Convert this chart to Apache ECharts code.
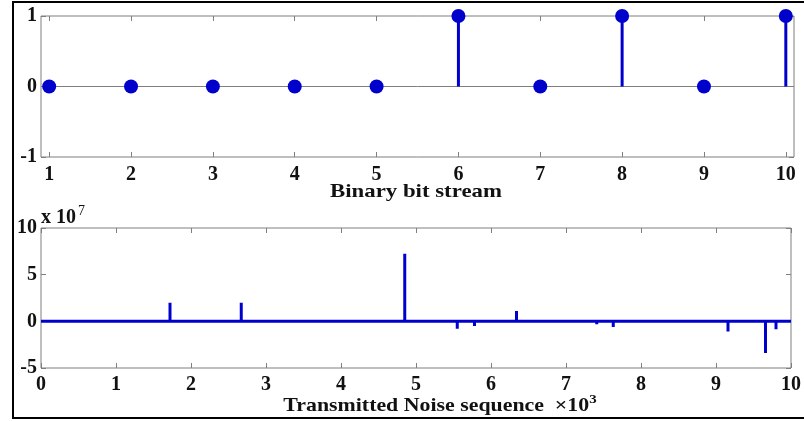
<!DOCTYPE html>
<html><head><meta charset="utf-8">
<script src="https://cdn.jsdelivr.net/npm/echarts@6/dist/echarts.min.js"></script>
<style>html,body{margin:0;padding:0;background:#fff}#c{width:804px;height:421px}</style>
</head><body><div id="c"></div>
<script>
// Top plot: binary bit stream
const bitIndex = [1,2,3,4,5,6,7,8,9,10];
const bitValues = [0,0,0,0,0,1,0,1,0,1];
const topXTicks = [1,2,3,4,5,6,7,8,9,10];
const topYTicks = [-1,0,1];
// Bottom plot: transmitted noise sequence (x in 10^3 samples, y in 10^7)
const noiseX = [1.72, 1.99, 2.67, 4.85, 5.40, 5.55, 5.78, 6.34, 7.41, 7.63, 7.76, 9.16, 9.34, 9.66, 9.80];
const noiseY = [2.0, 0.15, 2.0, 7.25, -0.15, -0.8, -0.5, 1.1, -0.3, -0.6, -0.15, -1.1, -0.1, -3.4, -0.85];
const botXTicks = [0,1,2,3,4,5,6,7,8,9,10];
const botYTicks = [-5,0,5,10];

const blue = '#0000cd';
const grayAxis = '#7f7f7f';
const fontFam = '"Liberation Serif","Times New Roman",serif';
const tickFont = {fontFamily: fontFam, fontWeight: 'bold', fontSize: 20, color: '#111'};

// stem polyline for noise: baseline with spikes
const noiseLine = [[0,0]];
noiseX.forEach((x,i)=>{ noiseLine.push([x,0],[x,noiseY[i]],[x,0]); });
noiseLine.push([10,0]);

const chart = echarts.init(document.getElementById('c'), null, {renderer:'canvas'});
const tickStyle = {inside:true, length:5, lineStyle:{color:grayAxis}};
const option = {
  animation:false,
  backgroundColor:'#fff',
  grid:[
    {left:41, top:16, width:753, height:141, show:true, borderColor:grayAxis, borderWidth:1},
    {left:41, top:228, width:753, height:140, show:true, borderColor:grayAxis, borderWidth:1}
  ],
  xAxis:[
    {type:'value', gridIndex:0, min:0.9, max:10.1, position:'bottom',
     axisLine:{show:false, onZero:false}, splitLine:{show:false},
     axisTick:Object.assign({customValues:topXTicks}, tickStyle),
     axisLabel:Object.assign({margin:8, customValues:topXTicks}, tickFont)},
    {type:'value', gridIndex:0, min:0.9, max:10.1, position:'top',
     axisLine:{show:false, onZero:false}, splitLine:{show:false},
     axisTick:Object.assign({customValues:topXTicks}, tickStyle),
     axisLabel:{show:false}},
    {type:'value', gridIndex:1, min:0, max:10, interval:1, position:'bottom',
     axisLine:{show:false, onZero:false}, splitLine:{show:false},
     axisTick:tickStyle,
     axisLabel:Object.assign({margin:7, customValues:botXTicks}, tickFont)},
    {type:'value', gridIndex:1, min:0, max:10, interval:1, position:'top',
     axisLine:{show:false, onZero:false}, splitLine:{show:false},
     axisTick:tickStyle,
     axisLabel:{show:false}}
  ],
  yAxis:[
    {type:'value', gridIndex:0, min:-1, max:1, interval:1, position:'left',
     axisLine:{show:false, onZero:false}, splitLine:{show:false},
     axisTick:Object.assign({customValues:topYTicks}, tickStyle),
     axisLabel:Object.assign({margin:4, customValues:topYTicks}, tickFont)},
    {type:'value', gridIndex:0, min:-1, max:1, interval:1, position:'right',
     axisLine:{show:false, onZero:false}, splitLine:{show:false},
     axisTick:tickStyle,
     axisLabel:{show:false}},
    {type:'value', gridIndex:1, min:-5, max:10, interval:5, position:'left',
     axisLine:{show:false, onZero:false}, splitLine:{show:false},
     axisTick:Object.assign({customValues:botYTicks}, tickStyle),
     axisLabel:Object.assign({margin:4, customValues:botYTicks}, tickFont)},
    {type:'value', gridIndex:1, min:-5, max:10, interval:5, position:'right',
     axisLine:{show:false, onZero:false}, splitLine:{show:false},
     axisTick:tickStyle,
     axisLabel:{show:false}}
  ],
  series:[
    {type:'line', xAxisIndex:0, yAxisIndex:0, data:[[0.9,0],[10.1,0]], symbol:'none',
     lineStyle:{color:grayAxis, width:1}, silent:true, z:1},
    {type:'bar', xAxisIndex:0, yAxisIndex:0, barWidth:3,
     data:bitIndex.map((x,i)=>[x,bitValues[i]]), itemStyle:{color:blue}, z:2},
    {type:'scatter', xAxisIndex:0, yAxisIndex:0, symbol:'circle', symbolSize:14,
     data:bitIndex.map((x,i)=>[x,bitValues[i]]), itemStyle:{color:blue, opacity:1}, z:3},
    {type:'line', xAxisIndex:2, yAxisIndex:2, data:noiseLine, symbol:'none',
     lineStyle:{color:blue, width:3, join:'miter', cap:'butt'}, z:2}
  ],
  graphic:[
    {type:'rect', shape:{x:13, y:2, width:800, height:416}, style:{fill:'none', stroke:'#000', lineWidth:2}, silent:true},
    {type:'text', x:416, y:192, scaleX:1.2, originX:0, originY:0,
     style:{text:'Binary bit stream', font:'bold 19px '+fontFam, fill:'#111', textAlign:'center', textVerticalAlign:'middle'}},
    {type:'text', x:440, y:406, scaleX:1.15, originX:0, originY:0,
     style:{text:'Transmitted Noise sequence  ×10{s|3}', font:'bold 19px '+fontFam, fill:'#111', textAlign:'center', textVerticalAlign:'middle',
       rich:{s:{font:'bold 13px '+fontFam, fill:'#111', padding:[0,0,12,0]}}}},
    {type:'text', x:41, y:218,
     style:{text:'x 10{s|7}', font:'bold 20px '+fontFam, fill:'#111', textAlign:'left', textVerticalAlign:'middle',
       rich:{s:{font:'14px '+fontFam, fill:'#111', padding:[0,0,14,2]}}}}
  ]
};
chart.setOption(option);
</script></body></html>
